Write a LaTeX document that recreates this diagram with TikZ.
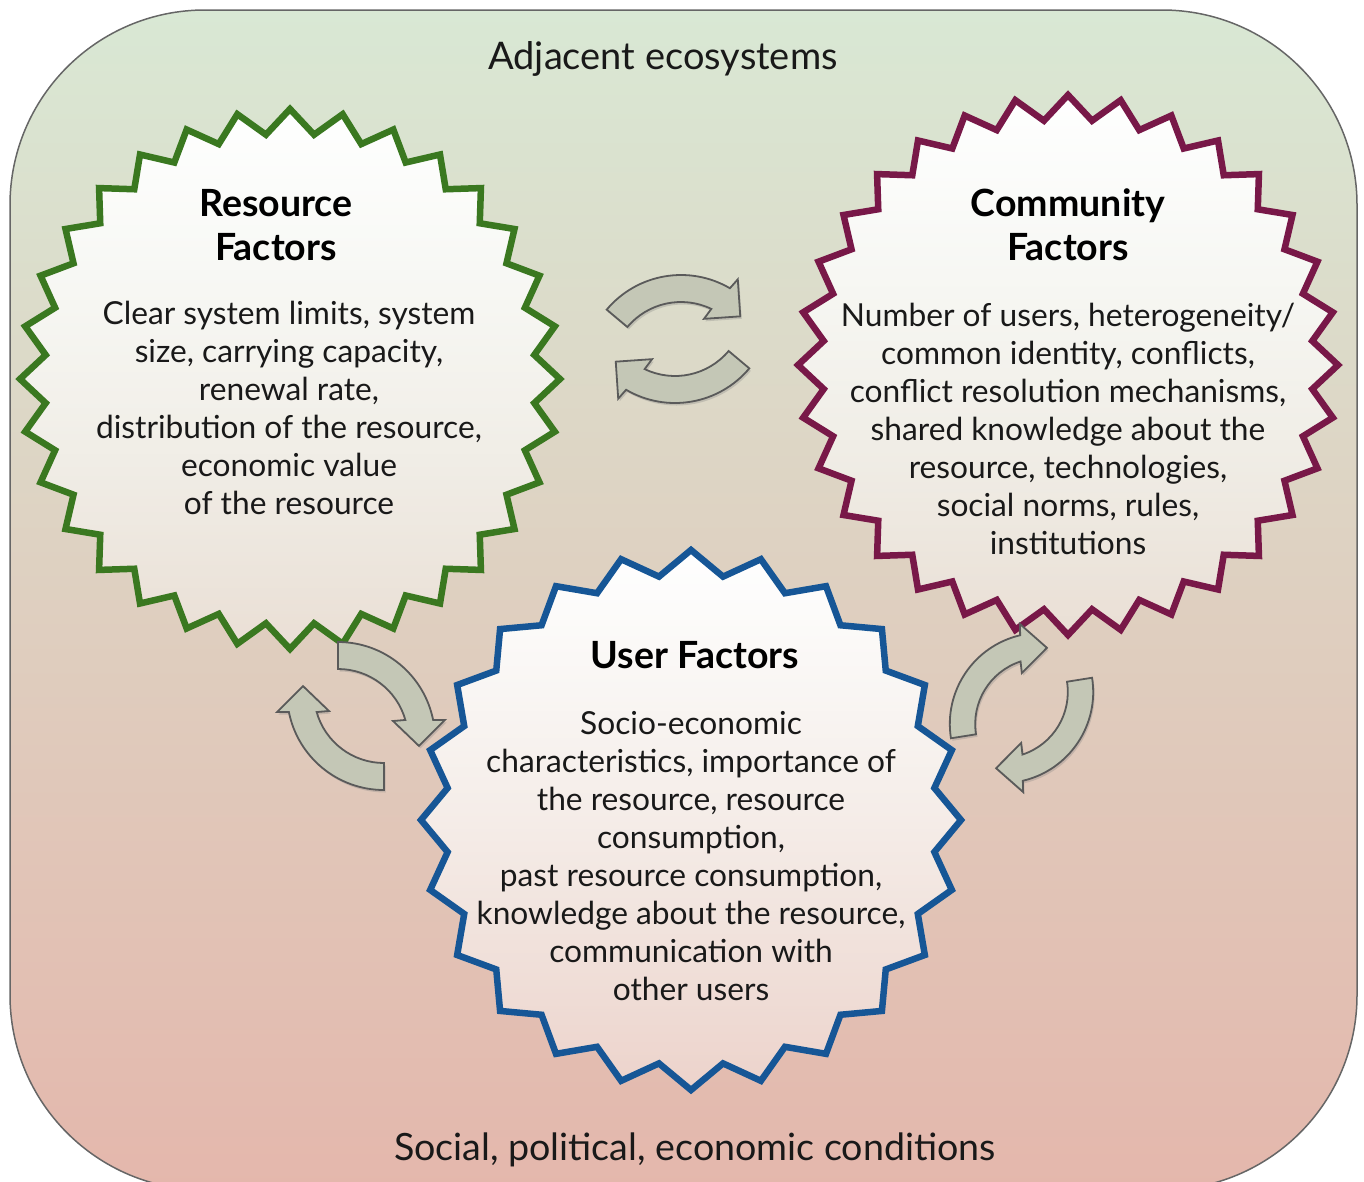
\documentclass[tikz,border=0pt]{standalone}
\usepackage{fontspec}
\setmainfont{Lato}
\usetikzlibrary{shapes.geometric,shadows,fadings,calc}
\definecolor{bgtop}{RGB}{217,232,212}
\definecolor{bgmid}{RGB}{224,214,196}
\definecolor{bgbot}{RGB}{228,183,172}
\definecolor{resgreen}{RGB}{58,120,32}
\definecolor{commaroon}{RGB}{120,24,72}
\definecolor{userblue}{RGB}{22,86,150}
\definecolor{arrowfill}{RGB}{196,199,182}
\definecolor{arrowline}{RGB}{90,90,90}
\definecolor{textdark}{RGB}{25,25,25}
\tikzfading[name=starfade, top color=transparent!0, bottom color=transparent!65]
% #1 centre, #2 start angle, #3 radial scale, #4 angular factor
\newcommand\cyclearrow[4]{%
  \draw[cyclestyle] ($(#1)+(#2:97*#3)$) arc[start angle=#2, delta angle=78.7*#4, radius=97*#3]
   -- ($(#1)+(#2+79.9*#4:108.7*#3)$) -- ($(#1)+(#2+94.9*#4:81.3*#3)$) -- ($(#1)+(#2+71.9*#4:57.9*#3)$)
   -- ($(#1)+(#2+74.2*#4:70*#3)$) arc[start angle=#2+74.2*#4, delta angle=-74.2*#4, radius=70*#3] -- cycle;}
\begin{document}
\begin{tikzpicture}[x=1pt,y=-1pt,
  starbase/.style={star, star point ratio=1.1, minimum size=540pt, inner sep=0pt,
    line width=6.5pt, line join=miter, preaction={fill=white, path fading=starfade}},
  cyclestyle/.style={fill=arrowfill, draw=arrowline, line width=1.8pt, line join=miter,
    drop shadow={shadow xshift=1.5pt, shadow yshift=-2.5pt, opacity=0.3}},
  bodytext/.style={align=center, text=textdark, font=\fontsize{31.7}{38}\selectfont, inner sep=0pt},
  titletext/.style={align=center, text=black, font=\bfseries\fontsize{37.5}{44}\selectfont, inner sep=0pt},
  labeltext/.style={text=textdark, inner sep=0pt}]
\useasboundingbox (0,0) rectangle (1364,1181);
\clip (0,0) rectangle (1364,1181);
\draw[draw=black!60, line width=1.5pt, rounded corners=195pt, top color=bgtop, middle color=bgmid, bottom color=bgbot] (10,10) rectangle (1357,1190);
\node[labeltext, font=\fontsize{38}{44}\selectfont] (adj) at (663,59) {Adjacent ecosystems};
\node[labeltext, font=\fontsize{37.6}{44}\selectfont] (soc) at (695,1150) {Social, political, economic conditions};
% stars
\node[starbase, star points=32, draw=resgreen] (res) at (290,379) {};
\node[starbase, star points=32, draw=commaroon] (com) at (1068,365) {};
\node[starbase, star points=24, draw=userblue] (usr) at (691,820) {};
% titles
\node[titletext] (restitle) at (276,225) {Resource\\Factors};
\node[titletext] (comtitle) at (1068,225) {Community\\Factors};
\node[titletext] (usrtitle) at (695,655) {User Factors};
% bodies
\node[bodytext] (resbody) at (289,408) {Clear system limits, system\\size, carrying capacity,\\renewal rate,\\distribution of the resource,\\economic value\\of the resource};
\node[bodytext] (combody) at (1068,429) {Number of users, heterogeneity/\\common identity, conflicts,\\conflict resolution mechanisms,\\shared knowledge about the\\resource, technologies,\\social norms, rules,\\institutions};
\node[bodytext] (usrbody) at (691,856) {Socio-economic\\characteristics, importance of\\the resource, resource\\consumption,\\past resource consumption,\\knowledge about the resource,\\communication with\\other users};
% cycle arrows
\coordinate (ta) at (681,372);
\coordinate (tb) at (675,306);
\coordinate (la) at (338,739);
\coordinate (lb) at (384,693);
\coordinate (ra) at (1041,724);
\coordinate (rb) at (1002,692);
\cyclearrow{ta}{-140}{1}{1.02}
\cyclearrow{tb}{40}{1}{1.02}
\cyclearrow{la}{-90}{1}{1}
\cyclearrow{lb}{90}{1}{1}
\cyclearrow{ra}{171}{0.94}{1.09}
\cyclearrow{rb}{-9}{0.94}{1.09}
\end{tikzpicture}
\end{document}
